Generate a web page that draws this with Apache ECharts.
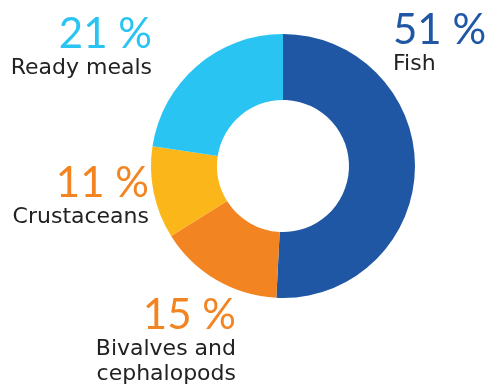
<!DOCTYPE html>
<html>
<head>
<meta charset="utf-8">
<script src="https://cdn.jsdelivr.net/npm/echarts@6/dist/echarts.min.js"></script>
<style>
  html, body { margin: 0; padding: 0; background: #fff; }
  #chart { width: 486px; height: 390px; }
</style>
</head>
<body>
<div id="chart"></div>
<script>
// 数据
const categories = ['Fish', 'Bivalves and\ncephalopods', 'Crustaceans', 'Ready meals'];
const shares = [50.8, 15.3, 11.3, 22.6];
const shareLabels = ['51 %', '15 %', '11 %', '21 %'];

const sliceColors = ['#1f57a4', '#f28522', '#fbb619', '#2ac4f2'];
const pctColors = ['#1f57a4', '#f28522', '#f28522', '#2ac4f2'];
// label anchor: [x, y, align]
const labelSpots = [[393, 8, 'left'], [236, 293, 'right'], [149, 161, 'right'], [152, 12, 'right']];

const chart = echarts.init(document.getElementById('chart'));

const option = {
    animation: false,
    series: [{
        type: 'pie',
        center: [283, 166],
        radius: [66, 132],
        startAngle: 90,
        clockwise: true,
        silent: true,
        itemStyle: { borderWidth: 0 },
        labelLine: { show: false },
        data: categories.map(function (name, i) {
            return {
                name: name,
                value: shares[i],
                itemStyle: { color: sliceColors[i] },
                label: {
                    show: true,
                    overflow: 'none',
                    width: 200,
                    formatter: '{p|' + shareLabels[i] + '}\n' + name.split('\n').map(function (s) { return '{n|' + s + '}'; }).join('\n'),
                    align: labelSpots[i][2],
                    rich: {
                        p: { fontFamily: 'Lato', fontSize: 42, color: pctColors[i], lineHeight: 44, align: labelSpots[i][2] },
                        n: { fontFamily: 'DejaVu Sans', fontSize: 22, color: '#222', lineHeight: 25, align: labelSpots[i][2] }
                    }
                }
            };
        }),
        labelLayout: function (params) {
            const s = labelSpots[params.dataIndex];
            return { x: s[0], y: s[1], align: s[2], verticalAlign: 'top', hideOverlap: false, moveOverlap: null };
        }
    }]
};

chart.setOption(option);
</script>
</body>
</html>
